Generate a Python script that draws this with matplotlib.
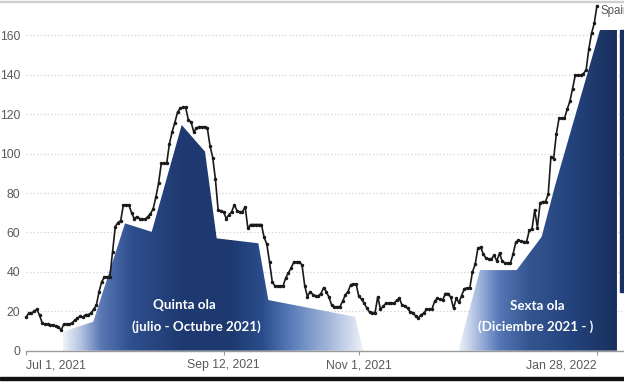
import numpy as np
import matplotlib.pyplot as plt
from matplotlib.colors import LinearSegmentedColormap
from matplotlib.patches import Polygon, Rectangle

# daily values from Jul 1, 2021 (day 0) to Jan 28, 2022 (day 211)
values = [
    17, 19, 19, 20, 21, 18, 14, 13.5, 13.5, 13, 13, 12.5, 12, 10.5, 13.5, 13.5,
    13.5, 14, 15.5, 16.5, 17.5, 17, 18.3, 18.3, 19, 21, 23, 30, 35, 37.5, 37.5, 37.5,
    50, 63, 65, 66, 74, 74, 74, 70, 67, 68, 67, 66.7, 66.7, 68, 69.5, 72,
    78, 85, 95, 95, 95, 105, 111, 115.7, 121, 123, 123.5, 123.5, 117, 116, 111, 113,
    113.6, 113.6, 113.6, 113, 104, 98, 87, 71.4, 71, 70.5, 67, 69, 70.5, 74, 71, 70.5,
    70.5, 73, 62, 64, 64, 64, 64, 64, 57.5, 54, 45, 35, 32.8, 32.8, 32.8, 32.8,
    37, 39.5, 42, 45, 45, 45, 43.5, 33, 27.4, 30, 28.5, 27.8, 27.8, 29, 32, 30,
    27, 23, 22.3, 22.3, 22.3, 25, 28.3, 30, 33.5, 33.8, 33.8, 27.5, 26.2, 24, 21.5, 19.5,
    19.3, 19.3, 27.4, 21, 22.5, 24, 24, 24, 24, 25.5, 26.5, 23, 22.8, 21.5, 19.7, 19.3,
    17.5, 16.5, 18.3, 19, 21, 21, 21, 25, 26.6, 26, 25.7, 29, 29, 27, 21.5, 26.5,
    24.5, 28, 31.5, 31.7, 31.7, 40, 43.8, 52, 52.5, 49, 46.9, 46.6, 46.4, 48.5, 45.5, 49.5,
    45.3, 44.5, 44.3, 44.3, 49, 55, 56, 55.4, 55.3, 55.3, 61, 61.8, 71.4, 62.5, 75, 75.6,
    75.6, 79.5, 98.5, 97.5, 110, 117.9, 117.9, 117.9, 122.5, 126.5, 133, 139.8, 139.8, 139.8, 140.5, 142.5,
    153, 161, 166, 175,
]
days = np.arange(len(values))

tick_days = [0, 73, 123, 211]
tick_labels = ["Jul 1, 2021", "Sep 12, 2021", "Nov 1, 2021", "Jan 28, 2022"]

# wave shapes (day, value)
quinta_x = [13.56, 13.56, 24.87, 36.59, 46.45, 57.54, 66.15, 70.47, 85.85, 89.54, 121.58, 124.65]
quinta_y = [0, 9.6, 14.7, 64.6, 60.3, 114.5, 101, 57, 54.5, 25.7, 17.2, 0]
quinta_colors = ["#eef2f8", "#b3c3e0", "#5a78b5", "#2f4f8e", "#1e3a70", "#1d396f",
                 "#2b4c8c", "#587ab8", "#a5b8dc", "#edf1f8"]
quinta_stops = [0, 0.058, 0.124, 0.224, 0.39, 0.557, 0.663, 0.756, 0.889, 1]

sexta_x = [159.76, 167.78, 181.34, 190.58, 195.6, 212.12, 218.4, 218.4]
sexta_y = [0, 40.9, 40.9, 57.8, 84.1, 162.7, 162.7, 0]
sexta_colors = ["#f0f3f9", "#c5d2e9", "#8aa3d1", "#5575b5", "#33558f", "#25447f",
                "#1d3768", "#17305e"]
sexta_stops = [0, 0.074, 0.168, 0.263, 0.452, 0.70, 0.89, 1]

YMAX = 176.9
XMAX = 221.0


def gradient_shape(ax, xs, ys, colors, stops):
    cmap = LinearSegmentedColormap.from_list("g", list(zip(stops, colors)))
    poly = Polygon(np.column_stack([xs, ys]), closed=True, facecolor="none",
                   edgecolor="none", zorder=2)
    ax.add_patch(poly)
    grad = np.linspace(0, 1, 256).reshape(1, -1)
    im = ax.imshow(grad, cmap=cmap, aspect="auto", interpolation="bilinear",
                   extent=[min(xs), max(xs), 0, max(ys)], origin="lower", zorder=2)
    im.set_clip_path(poly)


def plot_waves():
    fig = plt.figure(figsize=(6.24, 3.82), dpi=100)
    ax = fig.add_axes([26 / 624, (382 - 350.7) / 382, 598 / 624, 348.7 / 382])

    for y in range(20, 161, 20):
        ax.axhline(y, color="#d9d9d9", linewidth=0.9, linestyle=(0, (1.2, 1.6)), zorder=0)

    gradient_shape(ax, quinta_x, quinta_y, quinta_colors, quinta_stops)
    gradient_shape(ax, sexta_x, sexta_y, sexta_colors, sexta_stops)

    ax.plot(days, values, color="#1a1a1a", linewidth=1.2, marker="o", markersize=1.5,
            zorder=3, clip_on=False)

    txt = dict(color="white", fontsize=9.6, fontweight="bold", family=["Lato", "DejaVu Sans"],
               ha="center", va="center", zorder=4)
    ax.text(58.4, 23.2, "Quinta ola", **txt)
    ax.text(62.8, 12.2, "(julio - Octubre 2021)", **txt)
    ax.text(188.8, 22.5, "Sexta ola", **txt)
    ax.text(188.5, 12.2, "(Diciembre 2021 - )", **txt)

    # series label, cut by the right edge as in the screenshot
    ax.text(212.3, 172.3, "Spain", color="#555555", fontsize=8.3,
            family="Liberation Sans", ha="left", va="center", clip_on=False)

    ax.set_xlim(0, XMAX)
    ax.set_ylim(0, YMAX)
    ax.set_yticks(range(0, 161, 20))
    ax.set_xticks(tick_days)
    ax.set_xticklabels(tick_labels)
    for lab, ha in zip(ax.get_xticklabels(), ["left", "center", "center", "right"]):
        lab.set_ha(ha)
    ax.tick_params(axis="y", length=0, pad=4, labelsize=8.8, labelcolor="#5a5a5a")
    ax.tick_params(axis="x", length=3, color="#999999", pad=3, labelsize=8.8,
                   labelcolor="#5a5a5a")
    for lab in ax.get_xticklabels() + ax.get_yticklabels():
        lab.set_family("Liberation Sans")
    for s in ["top", "right", "left"]:
        ax.spines[s].set_visible(False)
    ax.spines["bottom"].set_color("#9a9a9a")
    ax.spines["bottom"].set_linewidth(1.0)
    ax.set_facecolor("none")

    # frame bits of the screenshot
    fig.patches.append(Rectangle((0, 1 - 2 / 382), 1, 1.2 / 382, transform=fig.transFigure,
                                 color="#cfcfcf", zorder=0))
    fig.patches.append(Rectangle((0, 1 - 379.5 / 382), 1, 3 / 382, transform=fig.transFigure,
                                 color="#111111", zorder=5))
    fig.patches.append(Rectangle((619.5 / 624, 1 - 292 / 382), 5 / 624, 262 / 382,
                                 transform=fig.transFigure, color="#1b3061", zorder=5))

    fig.savefig("out.png", dpi=100)


if __name__ == "__main__":
    plot_waves()
